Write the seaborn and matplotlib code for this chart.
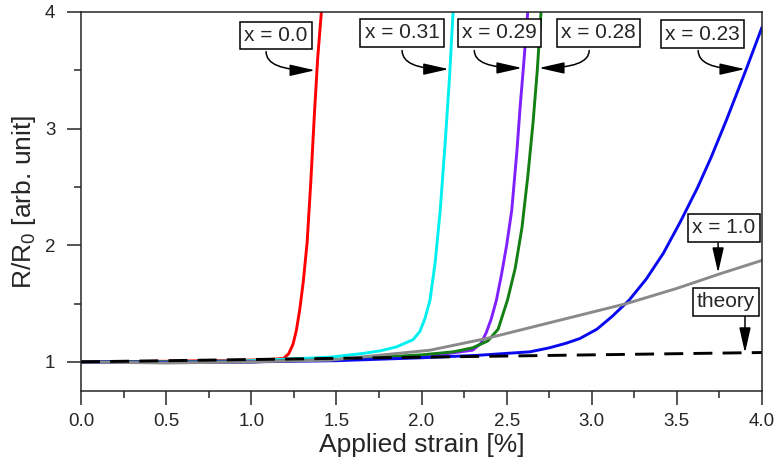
import numpy as np
import pandas as pd
import matplotlib
matplotlib.use("Agg")
import matplotlib.pyplot as plt
from matplotlib.ticker import MultipleLocator, FormatStrFormatter
import seaborn as sns

# Resistance change vs. applied strain for films of different composition x
red_x = [0.0, 0.5, 1.0, 1.1, 1.15, 1.19, 1.22, 1.245, 1.265, 1.285, 1.305, 1.328, 1.35,
         1.37, 1.39, 1.413]
red_y = [1.0, 1.005, 1.015, 1.02, 1.025, 1.03, 1.07, 1.15, 1.27, 1.45, 1.68, 2.02, 2.55,
         3.1, 3.6, 4.02]

cyan_x = [0.0, 0.5, 1.0, 1.463, 1.656, 1.76, 1.854, 1.95, 1.99, 2.02, 2.05, 2.08, 2.11,
          2.14, 2.165, 2.186]
cyan_y = [1.0, 1.0, 1.01, 1.04, 1.072, 1.095, 1.129, 1.19, 1.26, 1.37, 1.53, 1.85, 2.3,
          2.9, 3.45, 4.02]

purple_x = [0.0, 1.0, 1.5, 2.0, 2.148, 2.3, 2.35, 2.38, 2.41, 2.44, 2.47, 2.5, 2.53, 2.56,
            2.58, 2.6, 2.625]
purple_y = [1.0, 1.0, 1.02, 1.05, 1.07, 1.1, 1.16, 1.25, 1.37, 1.53, 1.75, 2.0, 2.3, 2.8,
            3.2, 3.55, 4.02]

green_x = [0.0, 1.0, 1.5, 2.0, 2.187, 2.3, 2.39, 2.45, 2.505, 2.55, 2.59, 2.625, 2.655,
           2.68, 2.703]
green_y = [1.0, 1.0, 1.02, 1.06, 1.086, 1.12, 1.18, 1.28, 1.53, 1.8, 2.15, 2.6, 3.05,
           3.5, 4.02]

blue_x = [0.0, 0.5, 1.0, 1.5, 2.0, 2.34, 2.637, 2.75, 2.85, 2.93, 3.03, 3.12, 3.22, 3.32,
          3.42, 3.52, 3.62, 3.7, 3.79, 3.91, 4.0]
blue_y = [1.0, 0.995, 1.0, 1.01, 1.035, 1.057, 1.086, 1.12, 1.16, 1.2, 1.28, 1.39, 1.53,
          1.71, 1.93, 2.2, 2.49, 2.75, 3.07, 3.52, 3.87]

gray_x = [0.0, 0.5, 1.0, 1.463, 2.05, 2.38, 2.696, 2.93, 3.205, 3.5, 3.753, 4.0]
gray_y = [1.0, 0.99, 1.0, 1.015, 1.1, 1.2, 1.315, 1.4, 1.5, 1.63, 1.755, 1.87]

theory_x = [0.0, 1.0, 2.0, 3.0, 4.0]
theory_y = [1.0, 1.02, 1.04, 1.06, 1.08]

series = [
    ("x = 0.0", red_x, red_y, "#ff0000"),
    ("x = 0.31", cyan_x, cyan_y, "#00f0f0"),
    ("x = 0.29", purple_x, purple_y, "#8020ff"),
    ("x = 0.28", green_x, green_y, "#138013"),
    ("x = 0.23", blue_x, blue_y, "#0a0af0"),
    ("x = 1.0", gray_x, gray_y, "#8a8a8a"),
]

sns.set_style("ticks")
plt.rcParams["font.family"] = ["Liberation Sans", "DejaVu Sans"]
plt.rcParams["mathtext.fontset"] = "custom"
plt.rcParams["mathtext.rm"] = "Liberation Sans"
plt.rcParams["mathtext.it"] = "Liberation Sans:italic"

fig = plt.figure(figsize=(7.81, 4.68), dpi=100)
ax = fig.add_axes([0.1037, 0.1645, 0.872, 0.8099])

for name, xs, ys, col in series:
    df = pd.DataFrame({"strain": xs, "ratio": ys})
    sns.lineplot(data=df, x="strain", y="ratio", ax=ax, color=col, linewidth=2.1,
                 sort=False, estimator=None)

df_t = pd.DataFrame({"strain": theory_x, "ratio": theory_y})
sns.lineplot(data=df_t, x="strain", y="ratio", ax=ax, color="black", linewidth=2.1,
             sort=False, estimator=None)
ax.lines[-1].set_dashes([6.5, 3.5])

ax.set_xlim(0, 4.0)
ax.set_ylim(0.75, 4.0)
ax.xaxis.set_major_locator(MultipleLocator(0.5))
ax.xaxis.set_minor_locator(MultipleLocator(0.25))
ax.yaxis.set_major_locator(MultipleLocator(1))
ax.yaxis.set_minor_locator(MultipleLocator(0.5))
ax.xaxis.set_major_formatter(FormatStrFormatter("%.1f"))
ax.yaxis.set_major_formatter(FormatStrFormatter("%d"))
ax.tick_params(which="major", direction="out", length=10, width=1.1, labelsize=13.5, pad=6)
ax.tick_params(axis="y", which="major", pad=8.5)
ax.tick_params(which="minor", direction="out", length=5, width=1.1)
for s in ax.spines.values():
    s.set_linewidth(1.1)
    s.set_visible(True)

ax.set_xlabel("Applied strain [%]", fontsize=19, labelpad=2)
ax.set_ylabel(r"R/R$_\mathregular{0}$ [arb. unit]", fontsize=19, labelpad=5)

box = dict(boxstyle="square,pad=0.2", fc="white", ec="black", lw=1.1)
arrow = dict(arrowstyle="-|>,head_length=1.1,head_width=0.25", color="black", lw=1.1,
             shrinkA=0, shrinkB=0, mutation_scale=14)

# curved arrows: (label, text centre, arrow start, arrow tip)
curved = [
    ("x = 0.0", (1.145, 3.80), (1.087, 3.66), (1.375, 3.50)),
    ("x = 0.31", (1.886, 3.82), (1.886, 3.67), (2.16, 3.51)),
    ("x = 0.29", (2.46, 3.82), (2.31, 3.67), (2.59, 3.52)),
    ("x = 0.28", (3.04, 3.82), (2.985, 3.67), (2.69, 3.52)),
    ("x = 0.23", (3.65, 3.81), (3.625, 3.67), (3.90, 3.51)),
]
for label, tpos, start, tip in curved:
    ax.text(*tpos, label, fontsize=15, ha="center", va="center", bbox=box, zorder=5)
    ax.annotate("", xy=tip, xytext=start,
                arrowprops=dict(arrow, connectionstyle="angle3,angleA=90,angleB=0"),
                zorder=5)

# straight arrows
ax.text(3.777, 2.148, "x = 1.0", fontsize=15, ha="center", va="center", bbox=box, zorder=5)
ax.annotate("", xy=(3.742, 1.763), xytext=(3.742, 2.02), arrowprops=arrow, zorder=5)
ax.text(3.789, 1.514, "theory", fontsize=15, ha="center", va="center", bbox=box, zorder=5)
ax.annotate("", xy=(3.90, 1.077), xytext=(3.90, 1.386), arrowprops=arrow, zorder=5)

fig.savefig("out.png", dpi=100)
